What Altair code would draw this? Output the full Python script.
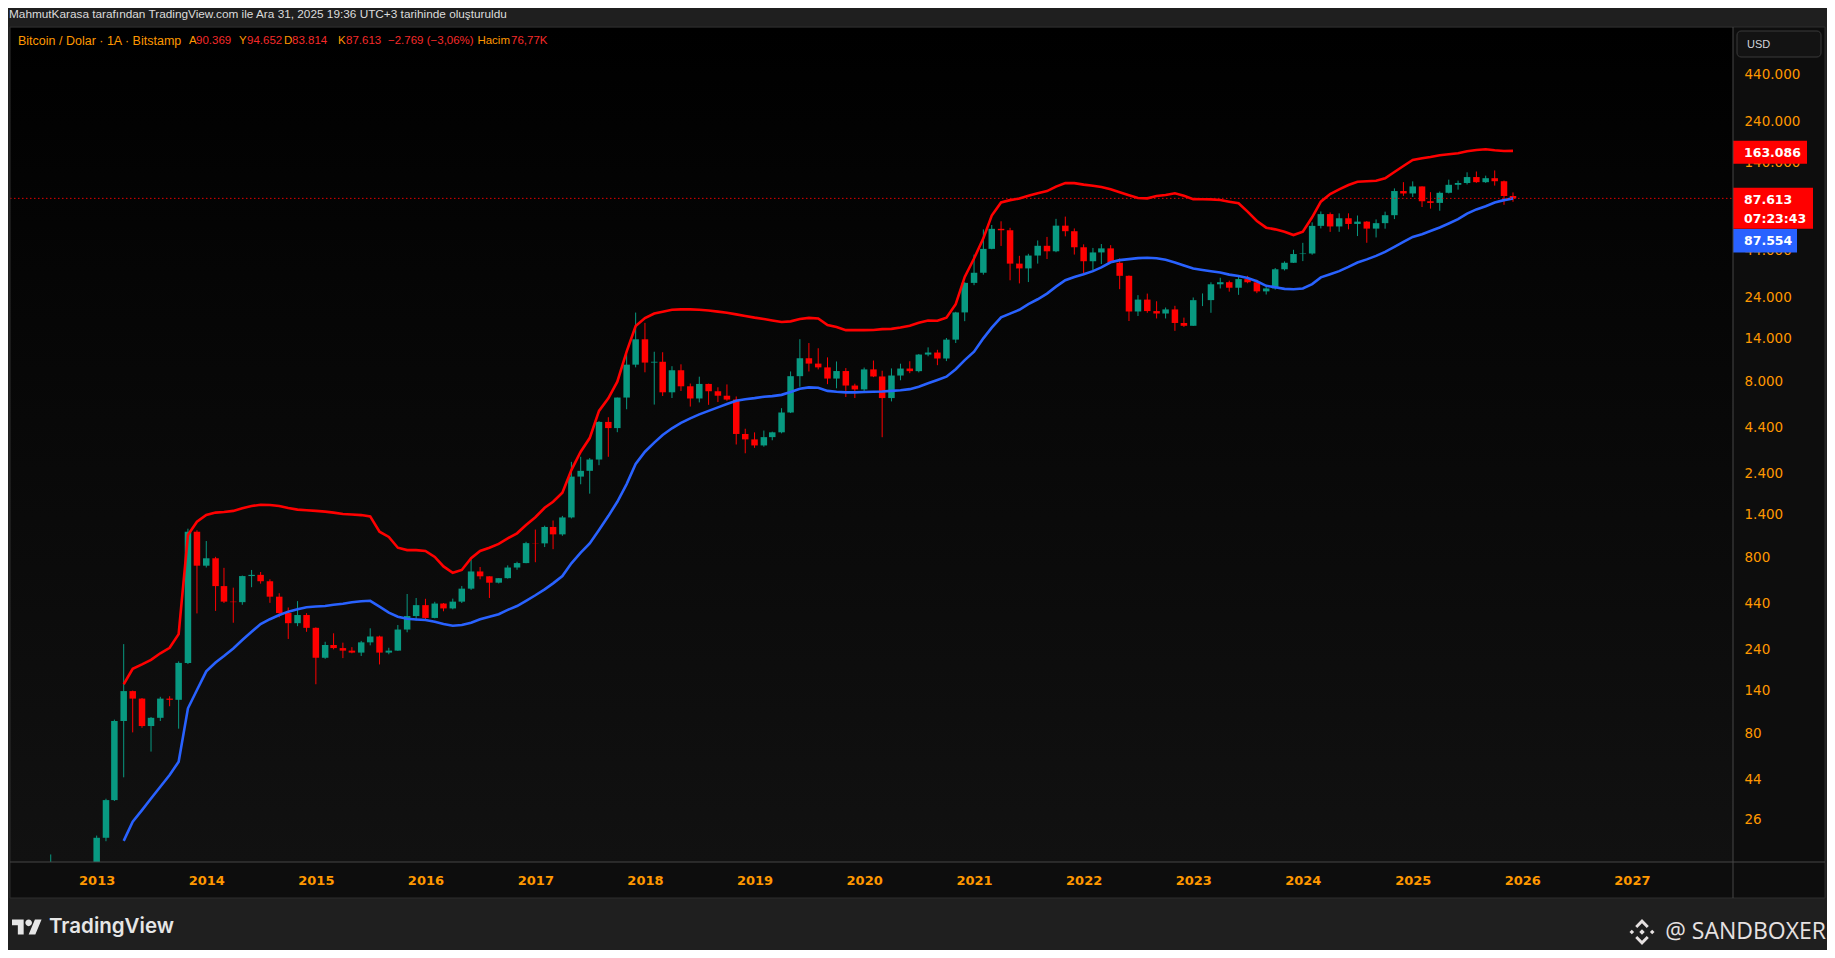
import altair as alt
import pandas as pd

# ------------------------------------------------------------------ data
FIRST_MONTH = "2012-04-01"   # monthly candles, Bitstamp BTC/USD
OPEN = [
    4.9, 5.0, 5.2, 6.7, 9.1, 10.2, 12.4, 11.2, 12.6,
    13.5, 20.4, 33.4, 94, 139, 126, 88, 98, 126, 124, 201, 1118,
    717, 790, 549, 448, 445, 626, 636, 585, 478, 386, 338, 376,
    318, 215, 254, 244, 236, 230, 263, 284, 230, 236, 311, 371,
    428, 362, 437, 410, 448, 531, 665, 624, 574, 609, 700, 742,
    963, 960, 1190, 1080, 1348, 2300, 2480, 2875, 4703, 4338, 6468, 9947,
    13860, 10220, 10330, 6928, 9245, 7495, 6390, 7730, 7025, 6625, 6300, 4017,
    3742, 3457, 3854, 4105, 5320, 8555, 10817, 10085, 9600, 8293, 9150, 7569,
    7195, 9350, 8523, 6424, 8629, 9454, 9135, 11350, 11655, 10780, 13800, 19700,
    28990, 33100, 45240, 58800, 57720, 37300, 35040, 41460, 47100, 43820, 61300, 57000,
    46200, 38480, 43180, 45540, 37700, 31800, 19940, 23300, 20050, 19420, 20490, 17160,
    16540, 23130, 23140, 28470, 29250, 27210, 30470, 29230, 25940, 26960, 34640, 37720,
    42280, 42580, 61130, 71290, 60660, 67530, 62680, 64620, 58970, 63330, 70290, 96400,
    93400, 102400, 84350, 82550, 94200, 104600, 107100, 115750, 108250, 114050, 109600, 90369,
]
HIGH = [
    5.3, 5.2, 6.7, 9.3, 16.4, 12.9, 12.9, 12.9, 13.8,
    21.0, 34.0, 95.7, 257, 140, 127, 99, 129, 130, 205, 1163, 1140,
    990, 805, 697, 538, 630, 678, 660, 600, 500, 415, 451, 385,
    320, 265, 296, 262, 247, 268, 316, 287, 245, 330, 495, 470,
    465, 447, 440, 466, 550, 780, 705, 625, 610, 720, 755, 980,
    1150, 1210, 1295, 1375, 2790, 2980, 2930, 4750, 5000, 6470, 11400, 19666,
    17180, 11780, 11700, 9750, 9990, 7770, 8500, 7760, 7400, 7680, 6560, 4300,
    4100, 4200, 4140, 5630, 9100, 13880, 13200, 12330, 10940, 10370, 9510, 7750,
    9575, 10500, 9190, 9470, 10070, 10400, 11440, 12470, 12080, 14100, 19850, 29300,
    41950, 58350, 61800, 64900, 59600, 41300, 42400, 50500, 52900, 67000, 69000, 59100,
    47990, 45800, 48200, 47500, 39900, 31950, 24700, 25200, 22800, 21000, 21480, 18400,
    23950, 25250, 29200, 31000, 29850, 31400, 31800, 30200, 27500, 35200, 38400, 44700,
    48970, 64000, 73800, 72800, 71950, 72000, 70000, 65100, 66500, 73600, 99800, 108300,
    109400, 102500, 95000, 95800, 111900, 110500, 123200, 124500, 117900, 126200, 110600, 94652,
]
LOW = [
    4.8, 4.9, 5.2, 6.5, 7.1, 9.9, 10.3, 10.0, 12.5,
    13.3, 19.5, 33.0, 45, 81, 86, 63, 94, 114, 85, 198, 384,
    700, 397, 440, 340, 430, 541, 567, 441, 365, 275, 325, 302,
    152, 212, 240, 214, 228, 220, 253, 197, 225, 235, 300, 350,
    352, 360, 395, 405, 440, 522, 600, 470, 568, 605, 680, 740,
    750, 915, 890, 1060, 1330, 2080, 1840, 2670, 2980, 4110, 5550, 9600,
    9000, 5900, 6600, 6430, 7050, 5750, 6070, 5880, 6100, 6200, 3500, 3120,
    3350, 3400, 3700, 4050, 5280, 7450, 9100, 9350, 7710, 7300, 6515, 6430,
    6860, 8450, 3850, 6150, 8110, 8900, 8990, 11100, 9880, 10420, 13200, 17570,
    28130, 32300, 45000, 47000, 30000, 28800, 29300, 37300, 39600, 43300, 53300, 42000,
    32900, 34300, 37100, 37600, 26700, 17600, 18800, 19600, 18200, 18200, 15480, 16300,
    16500, 21400, 19600, 26950, 25850, 24800, 28850, 25350, 24900, 26550, 34100, 37600,
    38550, 41900, 59100, 56500, 56550, 58400, 53500, 49000, 52550, 58900, 66800, 90500,
    89200, 78200, 76600, 74500, 93400, 98200, 105100, 107300, 107200, 103500, 80500, 83814,
]
CLOSE = [
    5.0, 5.2, 6.7, 9.1, 10.2, 12.4, 11.2, 12.6, 13.5,
    20.4, 33.4, 94, 139, 126, 88, 98, 126, 124, 201, 1118, 717,
    790, 549, 448, 445, 626, 636, 585, 478, 386, 338, 376, 318,
    215, 254, 244, 236, 230, 263, 284, 230, 236, 311, 371, 428,
    362, 437, 410, 448, 531, 665, 624, 574, 609, 700, 742, 963,
    960, 1190, 1080, 1348, 2300, 2480, 2875, 4703, 4338, 6468, 9947, 13860,
    10220, 10330, 6928, 9245, 7495, 6390, 7730, 7025, 6625, 6300, 4017, 3742,
    3457, 3854, 4105, 5320, 8555, 10817, 10085, 9600, 8293, 9150, 7569, 7195,
    9350, 8523, 6424, 8629, 9454, 9135, 11350, 11655, 10780, 13800, 19700, 28990,
    33100, 45240, 58800, 57720, 37300, 35040, 41460, 47100, 43820, 61300, 57000, 46200,
    38480, 43180, 45540, 37700, 31800, 19940, 23300, 20050, 19420, 20490, 17160, 16540,
    23130, 23140, 28470, 29250, 27210, 30470, 29230, 25940, 26960, 34640, 37720, 42280,
    42580, 61130, 71290, 60660, 67530, 62680, 64620, 58970, 63330, 70290, 96400, 93400,
    102400, 84350, 82550, 94200, 104600, 107100, 115750, 108250, 114050, 109600, 90370, 87613,
]
BAND_FIRST_MONTH = "2013-04-01"
UPPER_BAND = [
    152, 186, 197, 209, 228, 245, 293, 1071, 1275,
    1391, 1436, 1448, 1468, 1520, 1565, 1590, 1585, 1565, 1525, 1493, 1480,
    1468, 1455, 1436, 1410, 1400, 1390, 1366, 1118, 1045, 907, 879, 879,
    870, 804, 710, 654, 678, 790, 869, 907, 953, 1026, 1095, 1220,
    1351, 1530, 1655, 1862, 2503, 3185, 3806, 5434, 6397, 7960, 11790, 16500,
    18300, 19400, 19900, 20400, 20500, 20500, 20400, 20200, 19900, 19600, 19200, 18800,
    18400, 18060, 17740, 17380, 17520, 18060, 18340, 18200, 16700, 16290, 15620, 15620,
    15620, 15650, 15830, 15890, 16180, 16550, 17200, 17740, 17680, 18400, 21960, 31330,
    39900, 51900, 69900, 83000, 85600, 87400, 90600, 93700, 96300, 102200, 106900, 106900,
    104800, 103400, 101600, 98600, 94900, 91200, 88000, 87600, 90300, 91500, 93700, 90600,
    86700, 86600, 86400, 85700, 83900, 82100, 73600, 65200, 59700, 58400, 56600, 54200,
    56600, 68400, 83900, 92700, 98600, 104300, 108900, 109600, 110400, 113900, 123700, 133800,
    144700, 148000, 150500, 153900, 155900, 157900, 162100, 164900, 166400, 164300, 162800, 163086,
]
LOWER_BAND = [
    19.6, 25.2, 29.3, 34.1, 39.8, 46.4, 55.2, 111, 141,
    180, 202, 220, 243, 271, 302, 334, 356, 376, 393, 405, 416,
    420, 423, 430, 436, 444, 450, 453, 420, 388, 368, 358, 355,
    352, 344, 334, 327, 330, 340, 356, 368, 380, 402, 423, 453,
    487, 526, 569, 626, 740, 850, 960, 1144, 1372, 1655, 2086, 2712,
    3185, 3588, 3962, 4326, 4647, 4930, 5193, 5434, 5690, 5941, 6205, 6330,
    6420, 6530, 6590, 6700, 6950, 7260, 7390, 7350, 7060, 6975, 6920, 6920,
    6950, 6975, 7000, 7060, 7120, 7220, 7455, 7800, 8140, 8500, 9370, 10560,
    11790, 14030, 16140, 18480, 19400, 20400, 21960, 23400, 25200, 27600, 30000, 31330,
    32470, 33800, 35500, 37970, 39030, 39550, 40100, 40300, 40000, 39200, 37900, 36400,
    35000, 34300, 33750, 33200, 32300, 31700, 30900, 29600, 27900, 27400, 26800, 26700,
    26950, 28550, 31160, 32470, 33800, 35730, 37840, 39420, 41270, 43530, 46460, 49600,
    52900, 54800, 57200, 59800, 63000, 66700, 71800, 75800, 79100, 83000, 85600, 87554,
]
YEARS = list(range(2013, 2028))
# (80.000 sits fully under the last-price label in the reference, so it is not drawn)
PRICE_TICKS = [26, 44, 80, 140, 240, 440, 800, 1400, 2400, 4400, 8000, 14000,
               24000, 44000, 140000, 240000, 440000]
COUNTDOWN = "07:23:43"
TITLE = "MahmutKarasa tarafından TradingView.com ile Ara 31, 2025 19:36 UTC+3 tarihinde oluşturuldu"
HEADER_PARTS = [
    ("Bitcoin / Dolar · 1A · Bitstamp", "label"), ("A", "label"), ("90.369", "value"),
    ("Y", "label"), ("94.652", "value"), ("D", "label"), ("83.814", "value"),
    ("K", "label"), ("87.613", "value"), ("−2.769 (−3,06%)", "value"),
    ("Hacim", "label"), ("76,77K", "value"),
]
HEADER_X = [8, 179, 186, 229, 237, 274, 282, 328, 336, 378, 500, 501]
HEADER_ALIGN = ["left"] * 10 + ["right", "left"]
HEADER_SIZE = [12.5] + [11.5] * 11

# ------------------------------------------------------------------ style
W, H = 1723, 834
ORANGE = "#ff9800"
RED = "#ff0000"
GREEN = "#089981"
BLUE = "#2962ff"
VAL_RED = "#f52a2a"
GRAY_BG = "#1f1f1f"
FONT = "Liberation Sans"
NUMFONT = "DejaVu Sans"

n = len(CLOSE)
candles = pd.DataFrame({
    "date": pd.date_range(FIRST_MONTH, periods=n, freq="MS").strftime("%Y-%m-%d"),
    "open": OPEN, "high": HIGH, "low": LOW, "close": CLOSE,
})
candles["dir"] = ["up" if c >= o else "down" for o, c in zip(OPEN, CLOSE)]

bands = pd.DataFrame({
    "date": pd.date_range(BAND_FIRST_MONTH, periods=len(UPPER_BAND), freq="MS").strftime("%Y-%m-%d"),
    "upper": UPPER_BAND, "lower": LOWER_BAND,
})


def tr_fmt(v):
    return f"{int(round(v)):,}".replace(",", ".")


last_close = pd.DataFrame({"p": [CLOSE[-1]], "t": [tr_fmt(CLOSE[-1])], "t2": [COUNTDOWN]})
last_upper = pd.DataFrame({"p": [UPPER_BAND[-1]], "t": [tr_fmt(UPPER_BAND[-1])]})
last_lower = pd.DataFrame({"p": [LOWER_BAND[-1]], "t": [tr_fmt(LOWER_BAND[-1])]})
one = pd.DataFrame({"a": [0]})

xs = alt.Scale(type="utc", nice=False,
               domain=[alt.DateTime(year=2012, month=4, date=4, utc=True),
                       alt.DateTime(year=2027, month=11, date=17, utc=True)])
xaxis = alt.Axis(values=[alt.DateTime(year=y, month=1, date=1, utc=True) for y in YEARS],
                 format="%Y", formatType="utc", labelColor=ORANGE, labelFont=NUMFONT,
                 labelFontWeight="bold", labelFontSize=13, labelPadding=18,
                 labelBaseline="middle", ticks=False, tickSize=0, domain=False,
                 grid=False, title=None, labelOverlap=False, labelFlush=False)
ys = alt.Scale(type="log", domain=[14.86, 813600], nice=False)
yaxis = alt.Axis(orient="right", values=PRICE_TICKS,
                 labelExpr="replace(format(datum.value, ','), ',', '.')",
                 labelColor=ORANGE, labelFont=NUMFONT, labelFontSize=13.5,
                 labelPadding=11, ticks=False, tickSize=0, domain=False, grid=False,
                 title=None, labelOverlap=False, labelBaseline="middle",
                 labelAlign="left", labelFlush=False)

X = alt.X("date:T", scale=xs, axis=xaxis)


def Y(field):
    return alt.Y(f"{field}:Q", scale=ys, axis=yaxis)


COL = alt.Color("dir:N", scale=alt.Scale(domain=["up", "down"], range=[GREEN, RED]), legend=None)


def box(x, x2, y, y2, fill, stroke=None, radius=0, opacity=1.0):
    kw = dict(fill=fill, fillOpacity=opacity, cornerRadius=radius)
    if stroke:
        kw.update(stroke=stroke, strokeWidth=1)
    return alt.Chart(one).mark_rect(**kw).encode(
        x=alt.value(x), x2=alt.value(x2), y=alt.value(y), y2=alt.value(y2))


def label(s, x, y, color, size=12, weight="normal", font=FONT, align="left"):
    return alt.Chart(one).mark_text(text=s, align=align, baseline="middle", font=font,
                                    fontSize=size, fontWeight=weight, color=color).encode(
        x=alt.value(x), y=alt.value(y))


plot_bg = alt.Chart(one).mark_rect(fill={
    "gradient": "linear", "x1": 0, "y1": 0, "x2": 0, "y2": 1,
    "stops": [{"offset": 0, "color": "#000000"}, {"offset": 1, "color": "#111111"}]}
).encode(x=alt.value(0), x2=alt.value(W), y=alt.value(0), y2=alt.value(H))

wicks = alt.Chart(candles).mark_rule(strokeWidth=1, clip=True).encode(
    x=X, y=Y("low"), y2="high:Q", color=COL)
bodies = alt.Chart(candles).mark_bar(width=6.5, clip=True).encode(
    x=X, y=Y("open"), y2="close:Q", color=COL)

upper = alt.Chart(bands).mark_line(color=RED, strokeWidth=2.6, clip=True).encode(x=X, y=Y("upper"))
lower = alt.Chart(bands).mark_line(color=BLUE, strokeWidth=2.6, clip=True).encode(x=X, y=Y("lower"))

price_line = alt.Chart(last_close).mark_rule(color=RED, strokeWidth=1, strokeDash=[1.5, 2.5],
                                             opacity=0.9).encode(
    y=Y("p"), x=alt.value(0), x2=alt.value(W))

up_box = alt.Chart(last_upper).mark_rect(color=RED, yOffset=-10, y2Offset=13).encode(
    x=alt.value(W), x2=alt.value(W + 74), y=Y("p"), y2="p:Q")
up_txt = alt.Chart(last_upper).mark_text(align="left", baseline="middle", dy=2, font=NUMFONT,
                                         fontWeight="bold", fontSize=12.5, color="#ffffff").encode(
    x=alt.value(W + 11), y=Y("p"), text="t:N")
cl_box = alt.Chart(last_close).mark_rect(color=RED, yOffset=-10.5, y2Offset=30.5).encode(
    x=alt.value(W), x2=alt.value(W + 80), y=Y("p"), y2="p:Q")
cl_txt = alt.Chart(last_close).mark_text(align="left", baseline="middle", dy=1.5, font=NUMFONT,
                                         fontWeight="bold", fontSize=12.5, color="#ffffff").encode(
    x=alt.value(W + 11), y=Y("p"), text="t:N")
cl_txt2 = alt.Chart(last_close).mark_text(align="left", baseline="middle", dy=20.5, font=NUMFONT,
                                          fontWeight="bold", fontSize=12.5, color="#ffffff").encode(
    x=alt.value(W + 11), y=Y("p"), text="t2:N")
lo_box = alt.Chart(last_lower).mark_rect(color=BLUE, yOffset=30.5, y2Offset=54).encode(
    x=alt.value(W), x2=alt.value(W + 64), y=Y("p"), y2="p:Q")
lo_txt = alt.Chart(last_lower).mark_text(align="left", baseline="middle", dy=42.5, font=NUMFONT,
                                         fontWeight="bold", fontSize=12.5, color="#ffffff").encode(
    x=alt.value(W + 11), y=Y("p"), text="t:N")

# frame pieces
top_bar = box(-2, 1817, -20, -1, GRAY_BG)
bottom_bar = box(-2, 1817, 870, 922, GRAY_BG)
left_bar = box(-2, 0, -20, 922, GRAY_BG)
right_bar = box(1815, 1817, -20, 922, GRAY_BG)
outline = alt.Chart(one).mark_rect(fillOpacity=0, stroke="#2e2e2e", strokeWidth=1).encode(
    x=alt.value(0), x2=alt.value(1815), y=alt.value(-1), y2=alt.value(870))
sep_h = alt.Chart(one).mark_rule(color="#464646", strokeWidth=1).encode(
    x=alt.value(0), x2=alt.value(1815), y=alt.value(H))
sep_v = alt.Chart(one).mark_rule(color="#464646", strokeWidth=1).encode(
    x=alt.value(W), y=alt.value(-1), y2=alt.value(870))

usd_box = box(1727, 1811, 3, 29, "#131313", stroke="#3a3a3a", radius=4)
usd_txt = label("USD", 1737, 16.5, "#d1d4dc", size=11)

title_txt = label(TITLE, -1, -14, "#dcdcdc", size=11.8)
header = [label(s, x, 13, ORANGE if kind == "label" else VAL_RED, size=sz, align=al)
          for (s, kind), x, al, sz in zip(HEADER_PARTS, HEADER_X, HEADER_ALIGN, HEADER_SIZE)]

TV_LOGO = ("M-0.222,0.5 L-0.611,0.5 L-0.611,-0.111 L-1,-0.111 L-1,-0.5 L-0.222,-0.5 Z "
           "M0.556,0.5 L0.111,0.5 L0.528,-0.5 L0.972,-0.5 Z "
           "M-0.111,-0.278 A0.222,0.222 0 1,0 0.333,-0.278 A0.222,0.222 0 1,0 -0.111,-0.278 Z")
tv_logo = alt.Chart(one).mark_point(shape=TV_LOGO, filled=True, size=900, color="#e6e6e6",
                                    opacity=1, strokeWidth=0).encode(
    x=alt.value(17), y=alt.value(899))
tv_txt = label("TradingView", 39, 899, "#e6e6e6", size=20.5, weight=600, font="Inter")

SB_LOGO = ("M-0.5,-0.45 L0,-0.95 L0.5,-0.45 L0.35,-0.3 L0,-0.65 L-0.35,-0.3 Z "
           "M-0.5,0.45 L0,0.95 L0.5,0.45 L0.35,0.3 L0,0.65 L-0.35,0.3 Z "
           "M0,-0.2 L0.2,0 L0,0.2 L-0.2,0 Z "
           "M-0.75,-0.17 L-0.58,0 L-0.75,0.17 L-0.92,0 Z "
           "M0.75,-0.17 L0.92,0 L0.75,0.17 L0.58,0 Z")
sb_logo = alt.Chart(one).mark_point(shape=SB_LOGO, filled=True, size=740, color="#e6e1e1",
                                    opacity=1, strokeWidth=0).encode(
    x=alt.value(1632), y=alt.value(904))
sb_txt = label("@ SANDBOXER", 1816, 904, "#e6e1e1", size=23, font="Open Sans", align="right")

chart = alt.layer(
    plot_bg, wicks, bodies, upper, lower, price_line,
    up_box, up_txt, cl_box, cl_txt, cl_txt2, lo_box, lo_txt,
    top_bar, bottom_bar, left_bar, right_bar, outline, sep_h, sep_v,
    usd_box, usd_txt, title_txt, *header, tv_logo, tv_txt, sb_logo, sb_txt,
).properties(
    width=W, height=H,
    padding={"left": 2, "top": 20, "right": 94, "bottom": 88},
    autosize=alt.AutoSizeParams(type="none"),
).configure(background="#0d0d0d").configure_view(stroke=None)

chart.save("out.html", embed_options={"renderer": "svg", "actions": False})
